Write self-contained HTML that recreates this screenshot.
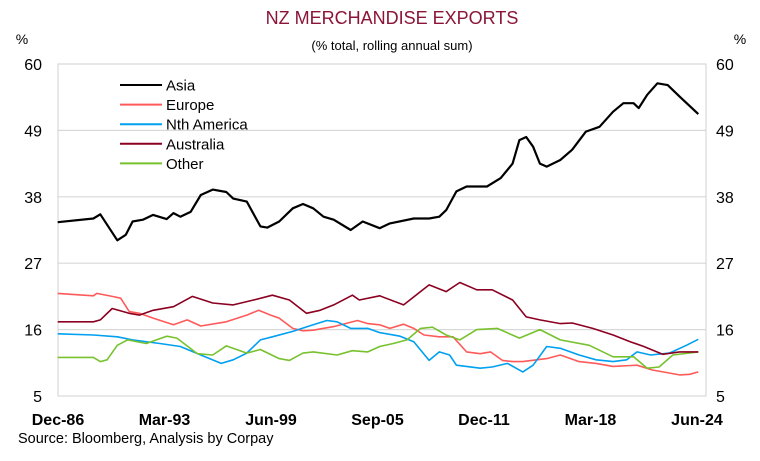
<!DOCTYPE html>
<html><head><meta charset="utf-8"><style>
body{margin:0;background:#fff;font-family:"Liberation Sans",sans-serif;}
svg text{font-family:"Liberation Sans",sans-serif;}
</style></head><body>
<svg id="chart" width="760" height="456" viewBox="0 0 760 456">
<text x="392" y="24" text-anchor="middle" font-size="18" fill="#8B1538">NZ MERCHANDISE EXPORTS</text>
<text x="392" y="50" text-anchor="middle" font-size="13" fill="#000">(% total, rolling annual sum)</text>
<text x="22" y="44" text-anchor="middle" font-size="14">%</text>
<text x="740" y="44" text-anchor="middle" font-size="14">%</text>
<g id="grid"></g>
<rect x="58" y="64" width="648" height="332" fill="none" stroke="#d0d0d0" stroke-width="1"/>
<g id="series"></g>
<g id="axes"></g>
<g id="legend"></g>
<text x="18" y="443" font-size="14.5">Source: Bloomberg, Analysis by Corpay</text>
</svg>
<script>
const yTicks=[60,49,38,27,16,5];
const xTickLabels=["Dec-86","Mar-93","Jun-99","Sep-05","Dec-11","Mar-18","Jun-24"];
const xTickYears=[1986.92,1993.17,1999.42,2005.67,2011.92,2018.17,2024.42];
const seriesNames=["Asia","Europe","Nth America","Australia","Other"];
const seriesColors=["#000000","#FF5A5A","#00A0F0","#8B0020","#77C22E"];
const asiaYears=[1986.9,1989.0,1989.4,1990.4,1990.9,1991.3,1991.9,1992.5,1993.3,1993.7,1994.1,1994.7,1995.3,1996.0,1996.8,1997.2,1998.0,1998.8,1999.2,1999.9,2000.7,2001.3,2001.9,2002.5,2003.1,2004.1,2004.8,2005.8,2006.4,2007.8,2008.7,2009.3,2009.7,2010.3,2010.9,2012.1,2012.9,2013.6,2014.0,2014.4,2014.8,2015.2,2015.6,2016.4,2017.1,2017.9,2018.7,2019.5,2020.1,2020.7,2021.0,2021.5,2022.1,2022.7,2023.4,2024.5];
const asiaVals=[33.8,34.4,35.1,30.8,31.7,33.9,34.2,35.0,34.3,35.3,34.7,35.5,38.3,39.2,38.8,37.7,37.2,33.1,32.9,33.9,36.1,36.8,36.1,34.7,34.2,32.5,33.9,32.8,33.6,34.4,34.4,34.7,35.8,38.9,39.7,39.7,41.1,43.5,47.4,47.9,46.3,43.5,43.0,44.1,45.8,48.8,49.6,52.1,53.5,53.5,52.7,54.9,56.8,56.5,54.6,51.7];
const europeYears=[1986.9,1989.0,1989.2,1990.1,1990.6,1991.1,1991.7,1992.5,1993.7,1994.5,1995.3,1996.8,1998.0,1998.7,1999.4,1999.9,2000.7,2001.3,2001.9,2003.1,2004.5,2005.1,2005.8,2006.4,2007.2,2007.8,2008.4,2009.3,2010.1,2010.9,2011.7,2012.3,2013.0,2013.6,2014.2,2015.6,2016.4,2017.5,2018.5,2019.5,2020.9,2021.8,2023.4,2024.0,2024.5];
const europeVals=[22.0,21.6,22.0,21.5,21.2,19.0,18.7,17.9,16.8,17.6,16.6,17.3,18.4,19.2,18.4,17.9,16.2,15.8,15.9,16.5,17.5,17.0,16.8,16.2,16.9,16.2,15.1,14.8,14.8,12.3,12.0,12.3,10.9,10.7,10.7,11.2,11.8,10.7,10.4,9.9,10.1,9.3,8.5,8.6,9.0];
const nthAmYears=[1986.9,1989.0,1990.4,1991.3,1992.9,1994.1,1995.3,1996.5,1997.2,1998.0,1998.8,1999.5,2000.7,2001.9,2002.7,2003.3,2004.1,2005.1,2005.8,2007.0,2007.8,2008.7,2009.3,2009.9,2010.3,2011.7,2012.4,2013.3,2014.2,2014.8,2015.6,2016.4,2017.5,2018.5,2019.5,2020.3,2020.9,2021.7,2022.8,2023.8,2024.5];
const nthAmVals=[15.3,15.1,14.8,14.3,13.7,13.2,11.8,10.4,11.0,12.1,14.3,14.8,15.7,16.8,17.5,17.3,16.2,16.2,15.5,14.9,14.0,10.9,12.3,11.8,10.1,9.6,9.8,10.4,9.0,10.1,13.2,12.9,11.8,11.0,10.7,11.0,12.3,11.8,12.1,13.4,14.4];
const ausYears=[1986.9,1989.0,1989.4,1990.1,1991.1,1991.7,1992.5,1993.7,1994.8,1996.0,1997.2,1998.4,1999.5,2000.5,2001.5,2002.3,2003.1,2004.2,2004.6,2005.8,2007.2,2008.7,2009.7,2010.5,2011.5,2012.4,2013.6,2014.4,2015.2,2016.4,2017.1,2018.3,2019.5,2020.5,2021.3,2022.4,2023.4,2024.5];
const ausVals=[17.3,17.3,17.6,19.5,18.7,18.4,19.2,19.8,21.5,20.4,20.1,20.9,21.7,20.9,18.7,19.2,20.1,21.7,20.9,21.6,20.1,23.4,22.3,23.8,22.6,22.6,20.9,18.1,17.6,17.0,17.1,16.2,15.1,14.0,13.2,11.9,12.3,12.3];
const otherYears=[1986.9,1989.0,1989.4,1989.8,1990.4,1991.0,1992.1,1993.3,1993.9,1995.1,1996.0,1996.8,1998.0,1998.8,1999.9,2000.5,2001.3,2001.9,2003.3,2004.2,2005.1,2005.8,2006.6,2007.4,2008.2,2008.9,2009.7,2010.5,2011.5,2012.7,2014.0,2015.2,2016.4,2018.1,2019.5,2020.7,2021.5,2022.2,2023.0,2024.5];
const otherVals=[11.4,11.4,10.7,11.0,13.4,14.3,13.7,14.9,14.6,12.0,11.8,13.3,12.1,12.7,11.2,10.9,12.1,12.3,11.8,12.5,12.3,13.2,13.7,14.3,16.2,16.4,15.1,14.3,16.0,16.2,14.6,16.0,14.3,13.4,11.5,11.5,9.6,9.8,11.8,12.3];

const NS="http://www.w3.org/2000/svg";
const X0=58,X1=706,Y0=64,Y1=396,T0=1986.92,T1=2024.95,V0=5,V1=60;
function xS(t){return X0+(t-T0)/(T1-T0)*(X1-X0);}
function yS(v){return Y1-(v-V0)/(V1-V0)*(Y1-Y0);}
function mk(tag,attrs){const e=document.createElementNS(NS,tag);for(const k in attrs)e.setAttribute(k,attrs[k]);return e;}
const grid=document.getElementById('grid'),axes=document.getElementById('axes'),ser=document.getElementById('series'),leg=document.getElementById('legend');
yTicks.forEach(v=>{
  if(v!==V0&&v!==V1){const l=mk('line',{x1:X0,x2:X1,y1:yS(v),y2:yS(v),stroke:'#d9d9d9','stroke-width':1.2});
  
  
  grid.appendChild(l);}
  const a=mk('text',{x:42,y:yS(v)+6,'text-anchor':'end','font-size':16});a.textContent=v;
  
  
  axes.appendChild(a);
  const b=mk('text',{x:716,y:yS(v)+6,'font-size':16});b.textContent=v;
  
  
  axes.appendChild(b);
});
xTickLabels.forEach((s,i)=>{
  const t=mk('text',{x:xS(xTickYears[i]),y:425,'text-anchor':'middle','font-size':16,'font-weight':'bold'});t.textContent=s;
  
  
  axes.appendChild(t);
});
const allYears=[asiaYears,europeYears,nthAmYears,ausYears,otherYears];
const allVals=[asiaVals,europeVals,nthAmVals,ausVals,otherVals];
const order=[1,2,4,3,0];
order.forEach(i=>{
  const d=allYears[i].map((t,j)=>(j?'L':'M')+xS(t).toFixed(1)+','+yS(allVals[i][j]).toFixed(1)).join(' ');
  const p=mk('path',{d:d,fill:'none',stroke:seriesColors[i],'stroke-width':i===0?2.2:1.6,'stroke-linejoin':'round'});
  
  
  ser.appendChild(p);
});
seriesNames.forEach((n,i)=>{
  const y=85+i*19.6;
  const l=mk('line',{x1:120,x2:162,y1:y,y2:y,stroke:seriesColors[i],'stroke-width':2});
  
  
  leg.appendChild(l);
  const t=mk('text',{x:166,y:y+5.5,'font-size':15});t.textContent=n;
  
  
  leg.appendChild(t);
});
</script>
</body></html>
